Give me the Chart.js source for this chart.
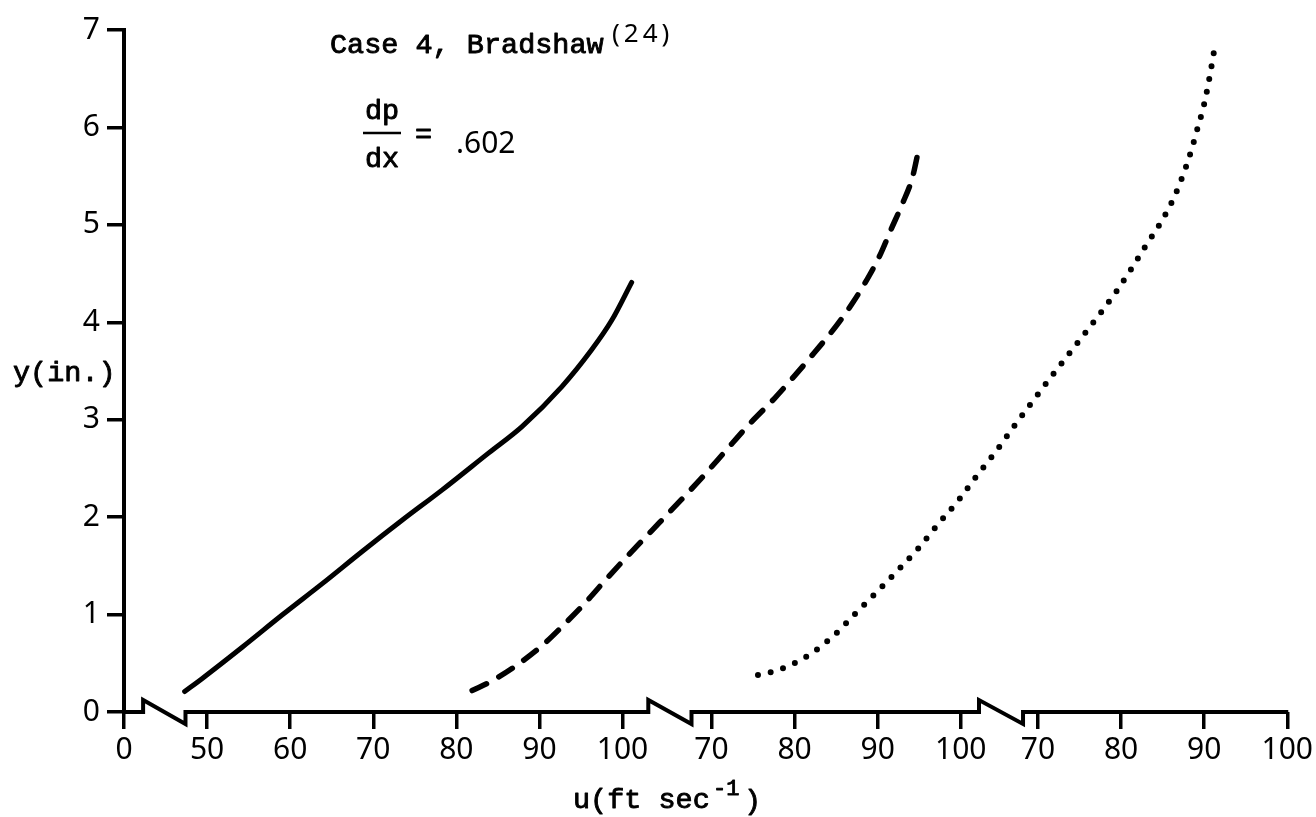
<!DOCTYPE html>
<html lang="en">
<head>
    <meta charset="UTF-8">
    <title>Case 4, Bradshaw velocity profiles</title>
    <script src="https://cdn.jsdelivr.net/npm/chart.js"></script>
    <style>
        body {
            margin: 0;
            padding: 0;
            background-color: white;
        }
        .chart-container {
            width: 1316px;
            height: 817px;
            position: relative;
        }
    </style>
</head>
<body>
    <div class="chart-container">
        <canvas id="profileChart"></canvas>
    </div>

    <script>
        // three velocity profiles, each read against its own u-axis panel
        const solidU = [47.3, 49.5, 54.3, 59.1, 63.9, 68.7, 73.5, 78.3, 83.9, 87.9, 92.7, 96.3, 98.7, 101.1];
        const solidY = [0.21, 0.35, 0.67, 1.00, 1.32, 1.65, 1.97, 2.28, 2.66, 2.93, 3.34, 3.72, 4.02, 4.41];

        const dashedU = [41.2, 43.6, 46.4, 49.6, 52.4, 54.8, 57.2, 60.0, 62.8, 65.6, 68.8, 71.6, 74.4, 77.6, 80.0, 82.4, 85.0, 87.0, 89.0, 90.4, 91.6, 93.0, 94.2, 95.0];
        const dashedY = [0.22, 0.32, 0.47, 0.68, 0.91, 1.12, 1.35, 1.61, 1.86, 2.11, 2.40, 2.67, 2.94, 3.22, 3.45, 3.69, 3.96, 4.20, 4.48, 4.71, 4.95, 5.22, 5.49, 5.80];

        const dottedU = [36.3, 37.5, 39.9, 42.7, 45.5, 47.9, 50.7, 53.3, 55.5, 58.1, 60.5, 62.5, 64.9, 67.1, 69.1, 71.5, 74.5, 77.3, 79.3, 81.4, 83.0, 84.6, 86.2, 87.5, 88.4, 89.2, 90.0, 90.7, 91.3];
        const dottedY = [0.38, 0.40, 0.47, 0.60, 0.79, 1.00, 1.24, 1.47, 1.67, 1.94, 2.18, 2.41, 2.67, 2.93, 3.16, 3.43, 3.76, 4.07, 4.30, 4.57, 4.79, 5.00, 5.25, 5.52, 5.75, 5.99, 6.24, 6.54, 6.84];

        // x tick labels and the panel each one belongs to (panel 0 is the lone "0")
        const uTicks = [0, 50, 60, 70, 80, 90, 100, 70, 80, 90, 100, 70, 80, 90, 100];
        const tickPanel = [0, 1, 1, 1, 1, 1, 1, 2, 2, 2, 2, 3, 3, 3, 3];
        const yTicks = [0, 1, 2, 3, 4, 5, 6, 7];

        // shift of each panel along the shared x axis
        const panelOffsets = [40, 0, 40.7, 80];
        // broken-axis zigzags, in shared x-axis units
        const axisBreaks = [[42.3, 47.4], [103.1, 108.3], [142.9, 148.2]];

        const tickPositions = uTicks.map((u, i) => u + panelOffsets[tickPanel[i]]);

        const toPoints = (us, ys, panel) => us.map((u, i) => ({ x: u + panelOffsets[panel], y: ys[i] }));

        const monoFont = '"Liberation Mono", monospace';
        const sansFont = '"Noto Sans", sans-serif';

        const whiteBackground = {
            id: 'whiteBackground',
            beforeDraw(chart) {
                const c = chart.ctx;
                c.save();
                c.fillStyle = 'white';
                c.fillRect(0, 0, chart.width, chart.height);
                c.restore();
            }
        };

        // typewriter text: fill plus a thin stroke so it reads a bit heavier
        function typeText(c, text, x, y) {
            c.fillText(text, x, y);
            c.strokeText(text, x, y);
        }

        // broken x axis line plus all the typed labels
        const decorations = {
            id: 'decorations',
            afterDraw(chart) {
                const c = chart.ctx;
                const xs = chart.scales.x;
                const y0 = chart.scales.y.getPixelForValue(0);
                const h = 12;

                c.save();
                c.strokeStyle = 'black';
                c.lineWidth = 4;
                c.lineJoin = 'miter';
                c.beginPath();
                c.moveTo(xs.getPixelForValue(xs.min), y0);
                axisBreaks.forEach(([a, b]) => {
                    const pa = xs.getPixelForValue(a);
                    const pb = xs.getPixelForValue(b);
                    c.lineTo(pa, y0);
                    c.lineTo(pa, y0 - h);
                    c.lineTo(pb, y0 + h);
                    c.lineTo(pb, y0);
                });
                c.lineTo(xs.getPixelForValue(xs.max) + 1, y0);
                c.stroke();

                c.fillStyle = 'black';
                c.textBaseline = 'alphabetic';
                c.textAlign = 'left';
                c.lineWidth = 0.9;
                c.lineJoin = 'round';

                c.font = '28.5px ' + monoFont;
                typeText(c, 'Case 4, Bradshaw', 330, 53);
                typeText(c, 'dp', 365, 119);
                typeText(c, 'dx', 365, 167);
                typeText(c, '=', 415, 143);
                typeText(c, 'y(in.)', 13, 381);
                typeText(c, 'u(ft sec', 573, 808);
                typeText(c, ')', 744, 809);

                c.font = '22px ' + monoFont;
                typeText(c, '-1', 713, 795);

                c.font = '30px ' + sansFont;
                c.fillText('.602', 456, 153);

                c.font = '26px ' + sansFont;
                c.letterSpacing = '4px';
                c.fillText('(24)', 612, 42);
                c.letterSpacing = '0px';

                // fraction bar of dp/dx
                c.lineWidth = 2.5;
                c.beginPath();
                c.moveTo(363, 133);
                c.lineTo(401, 133);
                c.stroke();
                c.restore();
            }
        };

        const ctx = document.getElementById('profileChart').getContext('2d');

        new Chart(ctx, {
            type: 'line',
            data: {
                datasets: [
                    {
                        data: toPoints(solidU, solidY, 1),
                        borderColor: 'black',
                        borderWidth: 5,
                        borderCapStyle: 'round',
                        cubicInterpolationMode: 'monotone',
                        pointRadius: 0
                    },
                    {
                        data: toPoints(dashedU, dashedY, 2),
                        borderColor: 'black',
                        borderWidth: 5.5,
                        borderDash: [16, 14],
                        borderCapStyle: 'round',
                        cubicInterpolationMode: 'monotone',
                        pointRadius: 0
                    },
                    {
                        data: toPoints(dottedU, dottedY, 3),
                        borderColor: 'black',
                        borderWidth: 6,
                        borderDash: [0, 13],
                        borderCapStyle: 'round',
                        cubicInterpolationMode: 'monotone',
                        pointRadius: 0
                    }
                ]
            },
            options: {
                responsive: true,
                maintainAspectRatio: false,
                animation: false,
                layout: { padding: { top: 30, right: 25, left: 0, bottom: 0 } },
                plugins: {
                    legend: { display: false },
                    tooltip: { enabled: false }
                },
                scales: {
                    x: {
                        type: 'linear',
                        min: 40,
                        max: 180,
                        afterFit: (scale) => { scale.height = 105; },
                        afterBuildTicks: (scale) => {
                            scale.ticks = tickPositions.map(v => ({ value: v }));
                        },
                        border: { display: false },
                        grid: {
                            drawOnChartArea: false,
                            drawTicks: true,
                            tickLength: 17,
                            lineWidth: 3.5,
                            color: 'black'
                        },
                        ticks: {
                            autoSkip: false,
                            maxRotation: 0,
                            padding: 3,
                            color: 'black',
                            font: { family: sansFont, size: 30 },
                            callback: (value, index) => String(uTicks[index])
                        }
                    },
                    y: {
                        min: 0,
                        max: 7,
                        afterFit: (scale) => { scale.width = 124; },
                        afterBuildTicks: (scale) => {
                            scale.ticks = yTicks.map(v => ({ value: v }));
                        },
                        border: { display: true, color: 'black', width: 4 },
                        grid: {
                            drawOnChartArea: false,
                            drawTicks: true,
                            tickLength: 17,
                            lineWidth: 3.5,
                            color: 'black'
                        },
                        ticks: {
                            padding: 7,
                            color: 'black',
                            font: { family: sansFont, size: 30 }
                        }
                    }
                }
            },
            plugins: [whiteBackground, decorations]
        });
    </script>
</body>
</html>
